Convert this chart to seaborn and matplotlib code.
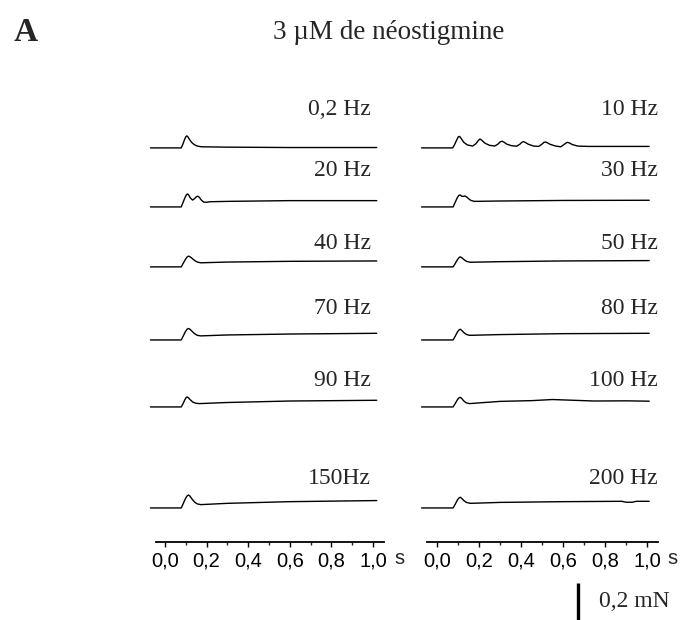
import numpy as np
import pandas as pd
import matplotlib
matplotlib.use("Agg")
import matplotlib.pyplot as plt
import seaborn as sns

# ---------------------------------------------------
# Data: force traces (mN, relative to pre-stimulus baseline)
# one time / force list per frequency
# ---------------------------------------------------
t_02hz = [-0.07, 0.078, 0.086, 0.094, 0.1, 0.105, 0.11, 0.118, 0.128, 0.14, 0.155, 0.175, 0.3, 0.6, 1.018]
f_02hz = [0.0, 0.0, 0.02, 0.045, 0.06, 0.065, 0.06, 0.045, 0.03, 0.018, 0.01, 0.006, 0.004, 0.002, 0.002]

t_20hz = [-0.07, 0.078, 0.087, 0.096, 0.103, 0.108, 0.114, 0.122, 0.133, 0.142, 0.151,
          0.158, 0.165, 0.174, 0.186, 0.2, 0.215, 0.3, 0.6, 1.018]
f_20hz = [0.0, 0.0, 0.025, 0.05, 0.066, 0.07, 0.064, 0.048, 0.037, 0.045, 0.055,
          0.058, 0.052, 0.038, 0.026, 0.025, 0.028, 0.03, 0.034, 0.034]

t_40hz = [-0.07, 0.078, 0.088, 0.098, 0.106, 0.113, 0.12, 0.13, 0.142, 0.155, 0.172, 0.3, 0.6, 1.018]
f_40hz = [0.0, 0.0, 0.02, 0.04, 0.053, 0.058, 0.055, 0.046, 0.035, 0.026, 0.022, 0.026, 0.03, 0.032]

t_70hz = [-0.07, 0.078, 0.088, 0.098, 0.106, 0.113, 0.12, 0.13, 0.142, 0.155, 0.172, 0.3, 0.6, 1.018]
f_70hz = [0.0, 0.0, 0.022, 0.045, 0.058, 0.062, 0.058, 0.047, 0.034, 0.025, 0.022, 0.027, 0.032, 0.036]

t_90hz = [-0.07, 0.078, 0.087, 0.095, 0.101, 0.106, 0.112, 0.122, 0.134, 0.148, 0.165, 0.3, 0.6, 1.018]
f_90hz = [0.0, 0.0, 0.018, 0.038, 0.05, 0.054, 0.05, 0.038, 0.026, 0.02, 0.018, 0.024, 0.032, 0.036]

t_150hz = [-0.07, 0.078, 0.088, 0.098, 0.106, 0.113, 0.12, 0.13, 0.142, 0.155, 0.172, 0.3, 0.6, 1.018]
f_150hz = [0.0, 0.0, 0.024, 0.05, 0.065, 0.07, 0.064, 0.048, 0.032, 0.022, 0.018, 0.025, 0.034, 0.04]

t_10hz = [-0.073, 0.075, 0.085, 0.095, 0.102, 0.108, 0.116, 0.128, 0.145, 0.17, 0.185,
          0.197, 0.205, 0.213, 0.228, 0.25, 0.275, 0.29, 0.302, 0.31, 0.318, 0.333,
          0.355, 0.38, 0.395, 0.405, 0.412, 0.42, 0.435, 0.46, 0.485, 0.5, 0.51,
          0.517, 0.525, 0.54, 0.565, 0.59, 0.605, 0.615, 0.622, 0.63, 0.645, 0.67,
          0.72, 1.011]
f_10hz = [0.0, 0.0, 0.02, 0.045, 0.06, 0.062, 0.05, 0.03, 0.016, 0.01, 0.022,
          0.04, 0.048, 0.042, 0.026, 0.014, 0.01, 0.02, 0.033, 0.036, 0.032, 0.02,
          0.012, 0.009, 0.02, 0.031, 0.034, 0.03, 0.02, 0.01, 0.008, 0.02, 0.03,
          0.032, 0.028, 0.019, 0.01, 0.006, 0.018, 0.027, 0.03, 0.027, 0.018, 0.01,
          0.008, 0.008]

t_30hz = [-0.073, 0.077, 0.087, 0.097, 0.104, 0.11, 0.118, 0.126, 0.133, 0.14, 0.15,
          0.162, 0.178, 0.3, 0.6, 1.011]
f_30hz = [0.0, 0.0, 0.025, 0.05, 0.062, 0.065, 0.058, 0.057, 0.059, 0.055, 0.045,
          0.035, 0.03, 0.032, 0.035, 0.036]

t_50hz = [-0.073, 0.077, 0.087, 0.097, 0.105, 0.111, 0.118, 0.128, 0.14, 0.158, 0.3, 0.6, 1.011]
f_50hz = [0.0, 0.0, 0.018, 0.038, 0.05, 0.054, 0.05, 0.04, 0.03, 0.025, 0.028, 0.032, 0.034]

t_80hz = [-0.073, 0.077, 0.087, 0.097, 0.105, 0.111, 0.118, 0.128, 0.14, 0.155, 0.3, 0.6, 1.011]
f_80hz = [0.0, 0.0, 0.02, 0.042, 0.054, 0.058, 0.052, 0.04, 0.03, 0.025, 0.029, 0.034, 0.036]

t_100hz = [-0.073, 0.077, 0.087, 0.097, 0.105, 0.111, 0.118, 0.128, 0.14, 0.155, 0.3,
           0.45, 0.55, 0.65, 0.75, 0.9, 1.011]
f_100hz = [0.0, 0.0, 0.018, 0.038, 0.049, 0.052, 0.046, 0.032, 0.022, 0.018, 0.03,
           0.034, 0.04, 0.036, 0.032, 0.033, 0.031]

t_200hz = [-0.073, 0.077, 0.087, 0.097, 0.105, 0.111, 0.118, 0.128, 0.14, 0.16, 0.3,
           0.6, 0.88, 0.9, 0.93, 0.95, 1.011]
f_200hz = [0.0, 0.0, 0.02, 0.042, 0.054, 0.058, 0.052, 0.04, 0.03, 0.025, 0.03,
           0.034, 0.036, 0.031, 0.031, 0.036, 0.036]

left_labels = ["0,2 Hz", "20 Hz", "40 Hz", "70 Hz", "90 Hz", "150Hz"]
right_labels = ["10 Hz", "30 Hz", "50 Hz", "80 Hz", "100 Hz", "200 Hz"]
left_traces = [(t_02hz, f_02hz), (t_20hz, f_20hz), (t_40hz, f_40hz),
               (t_70hz, f_70hz), (t_90hz, f_90hz), (t_150hz, f_150hz)]
right_traces = [(t_10hz, f_10hz), (t_30hz, f_30hz), (t_50hz, f_50hz),
                (t_80hz, f_80hz), (t_100hz, f_100hz), (t_200hz, f_200hz)]

x_ticks = [0.0, 0.2, 0.4, 0.6, 0.8, 1.0]
x_ticklabels = ["0,0", "0,2", "0,4", "0,6", "0,8", "1,0"]
scale_bar_mN = 0.2

# ---------------------------------------------------
# Layout (vertical stacking of the rows, in mN)
# ---------------------------------------------------
row_offsets = [1.946, 1.627, 1.303, 0.908, 0.546, 0.0]
label_heights = [2.151, 1.822, 1.43, 1.08, 0.69, 0.16]
serif = ["Liberation Serif", "DejaVu Serif"]

sns.set_theme(style="white")
plt.rcParams["font.family"] = ["Liberation Sans", "DejaVu Sans"]

fig = plt.figure(figsize=(6.82, 6.2), dpi=100)
ax_left = fig.add_axes([0.2282, 0.1258, 0.3355, 0.721])
ax_right = fig.add_axes([0.6268, 0.1258, 0.3387, 0.721])

for ax, traces, labels, label_x in [(ax_left, left_traces, left_labels, 0.99),
                                    (ax_right, right_traces, right_labels, 1.052)]:
    for (t, f), off, lab, ly in zip(traces, row_offsets, labels, label_heights):
        df = pd.DataFrame({"t": t, "f": np.array(f) + off})
        sns.lineplot(data=df, x="t", y="f", ax=ax, color="black",
                     linewidth=1.0, estimator=None, sort=False)
        ax.text(label_x, ly, lab, ha="right", va="center", fontsize=17, family=serif)
    for ln in ax.lines:
        ln.set_clip_on(False)

    ax.set_xlim(-0.045, 1.055)
    ax.set_ylim(-0.184, 2.232)
    ax.set_xlabel("")
    ax.set_ylabel("")
    ax.set_yticks([])
    ax.set_xticks(x_ticks)
    ax.set_xticklabels(x_ticklabels)
    ax.set_xticks(np.arange(0.1, 1.0, 0.2), minor=True)
    ax.tick_params(axis="x", which="major", direction="out", length=3.5,
                   width=1.0, pad=3, labelsize=14.5, bottom=True, colors="black")
    ax.tick_params(axis="x", which="minor", direction="out", length=2,
                   width=1.0, bottom=True)
    for side in ["left", "top", "right"]:
        ax.spines[side].set_visible(False)
    ax.spines["bottom"].set_color("black")
    ax.spines["bottom"].set_linewidth(1.3)
    ax.patch.set_alpha(0)
    ax.annotate("s", xy=(1.0, 0), xycoords=("data", "axes fraction"),
                xytext=(21, -16), textcoords="offset pixels",
                ha="left", va="center", fontsize=14.5)

# ---------------------------------------------------
# Scale bar (0.2 mN)
# ---------------------------------------------------
bar_x = 0.671
bar_top = -0.405
ax_right.plot([bar_x, bar_x], [bar_top, bar_top - scale_bar_mN],
              color="black", linewidth=2.4, clip_on=False, solid_capstyle="butt")
ax_right.text(bar_x + 0.1, bar_top - scale_bar_mN / 2, "0,2 mN",
              ha="left", va="center", fontsize=17, family=serif)

# ---------------------------------------------------
# Titles
# ---------------------------------------------------
fig.text(0.570, 0.947, "3 µM de néostigmine", ha="center", va="center",
         fontsize=19.5, family=serif)
fig.text(0.02, 0.948, "A", ha="left", va="center", fontsize=24,
         fontweight="bold", family=serif)

plt.savefig("out.png", dpi=100)
plt.close()
